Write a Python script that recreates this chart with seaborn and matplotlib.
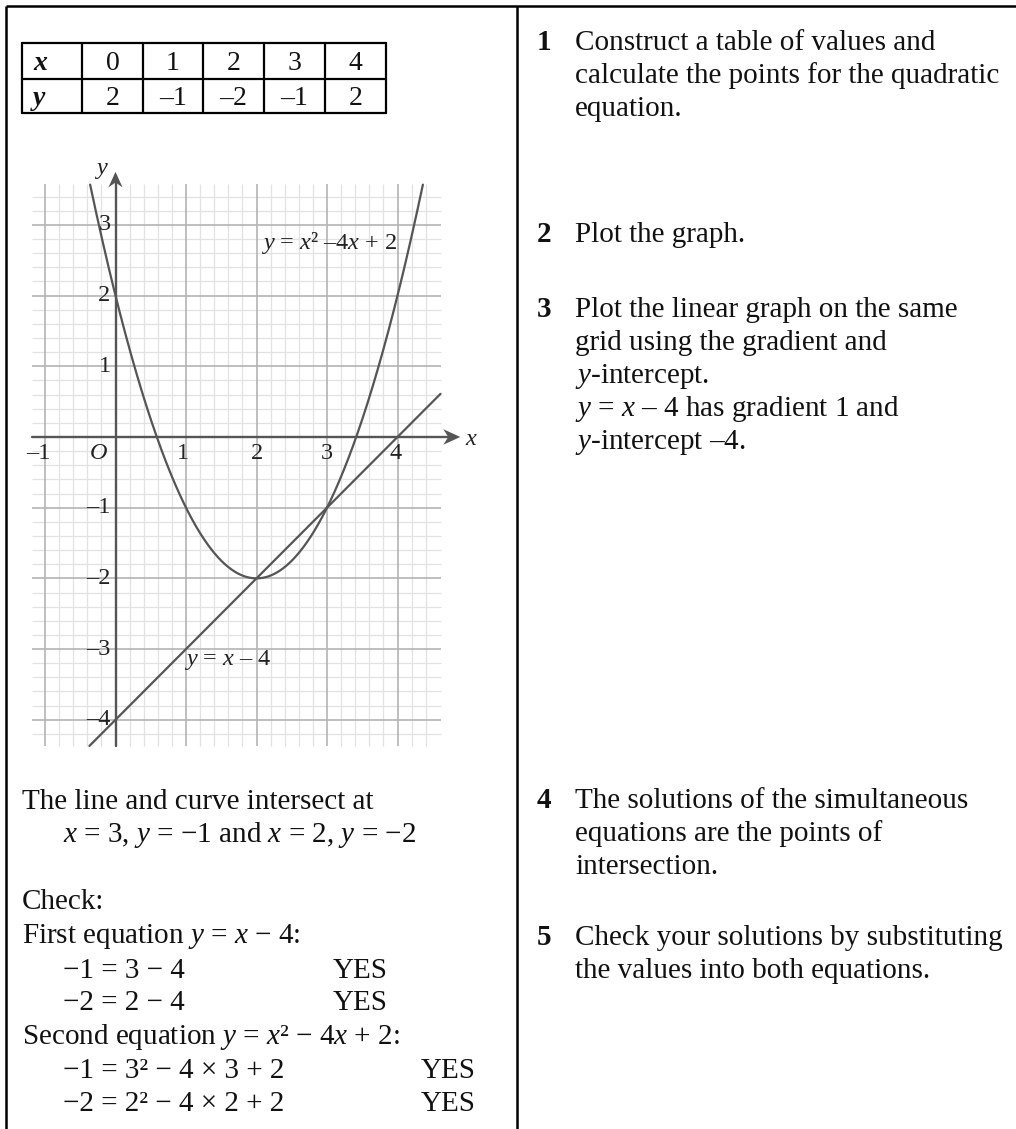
import numpy as np
import matplotlib
matplotlib.use("Agg")
import matplotlib.pyplot as plt
import seaborn as sns

# Table of values for the quadratic
x_values = [0, 1, 2, 3, 4]
y_values = [2, -1, -2, -1, 2]

# y = x^2 - 4x + 2 and y = x - 4
quad_coeffs = [1, -4, 2]
line_coeffs = [1, -4]

x_tick_values = [-1, 1, 2, 3, 4]
y_tick_values = [3, 2, 1, -1, -2, -3, -4]

sns.set_theme(style="white")
plt.rcParams["font.family"] = ["Liberation Serif", "DejaVu Serif"]
plt.rcParams["mathtext.fontset"] = "custom"
plt.rcParams["mathtext.rm"] = "Liberation Serif"
plt.rcParams["mathtext.it"] = "Liberation Serif:italic"
plt.rcParams["mathtext.bf"] = "Liberation Serif:bold"

W, H = 1016, 1129
fig = plt.figure(figsize=(W / 100, H / 100), dpi=100)
fig.patch.set_facecolor("white")

# Page layer in pixel coordinates (origin top-left)
page = fig.add_axes([0, 0, 1, 1])
page.set_xlim(0, W)
page.set_ylim(H, 0)
page.axis("off")

BODY = 21
ink = "#111111"
EN = "\u2013"
MINUS = "\u2212"
SQ = "\u00b2"

# Frame: top rule, left rule, column divider
page.plot([6, W], [6, 6], color="black", lw=1.8, solid_capstyle="butt")
page.plot([6, 6], [6, H], color="black", lw=1.8, solid_capstyle="butt")
page.plot([517, 517], [6, H], color="black", lw=1.8, solid_capstyle="butt")

# ---- table of values ----
col_edges = [22, 82, 143, 203, 264, 325, 386]
row_edges = [43, 79, 113]
for cx in col_edges:
    page.plot([cx, cx], [row_edges[0], row_edges[-1]], color="black", lw=1.6)
for ry in row_edges:
    page.plot([col_edges[0], col_edges[-1]], [ry, ry], color="black", lw=1.6)

def table_str(v):
    return str(v).replace("-", EN)

page.text(33, 70, "x", fontsize=20, fontweight="bold", fontstyle="italic",
          ha="left", va="baseline", color=ink)
page.text(33, 105, "y", fontsize=20, fontweight="bold", fontstyle="italic",
          ha="left", va="baseline", color=ink)
for i, (xv, yv) in enumerate(zip(x_values, y_values)):
    cxm = (col_edges[i + 1] + col_edges[i + 2]) / 2
    page.text(cxm, 70, table_str(xv), fontsize=20, ha="center", va="baseline", color=ink)
    page.text(cxm, 105, table_str(yv), fontsize=20, ha="center", va="baseline", color=ink)

# ---- graph ----
ax = fig.add_axes([20 / W, 1 - 760 / H, 460 / W, 610 / H])
ax.set_xlim(-1.3546, 5.170)
ax.set_ylim(-4.569, 4.059)
ax.axis("off")
ax.patch.set_alpha(0)

gx0, gx1 = -1.18, 4.61
gy0, gy1 = -4.37, 3.58
minor_c, major_c = "#e2e2e2", "#b4b4b4"

xs_minor = np.round(np.arange(-1.0, 4.41, 0.2), 2)
ys_minor = np.round(np.arange(-4.2, 3.41, 0.2), 2)
for v in xs_minor:
    if abs(v - round(v)) > 1e-6:
        ax.vlines(v, gy0, gy1, color=minor_c, lw=0.9, zorder=1)
for v in ys_minor:
    if abs(v - round(v)) > 1e-6:
        ax.hlines(v, gx0, gx1, color=minor_c, lw=0.9, zorder=1)
for v in range(-1, 5):
    ax.vlines(v, gy0, gy1, color=major_c, lw=1.2, zorder=2)
for v in range(-4, 4):
    ax.hlines(v, gx0, gx1, color=major_c, lw=1.2, zorder=2)

axis_c = "#555555"
# axes with notched arrowheads
ax.plot([gx0, 4.80], [0, 0], color=axis_c, lw=1.7, zorder=4)
ax.plot([0, 0], [gy0, 3.66], color=axis_c, lw=1.7, zorder=4)
tipx, tipy = 4.89, 3.75
ax.fill([tipx, tipx - 0.24, tipx - 0.17, tipx - 0.24],
        [0, 0.11, 0, -0.11], color=axis_c, lw=0, zorder=5)
ax.fill([0, 0.1, 0, -0.1],
        [tipy, tipy - 0.22, tipy - 0.15, tipy - 0.22], color=axis_c, lw=0, zorder=5)

# curve and line
xq = np.linspace(-0.40, 4.40, 600)
yq = np.polyval(quad_coeffs, xq)
keep = yq <= gy1
sns.lineplot(x=xq[keep], y=yq[keep], ax=ax, color=axis_c, lw=1.6,
             estimator=None, sort=False, zorder=6)
xl = np.array([gy0 - line_coeffs[1], gx1])
yl = np.polyval(line_coeffs, xl)
sns.lineplot(x=xl, y=yl, ax=ax, color=axis_c, lw=1.6,
             estimator=None, sort=False, zorder=6)

TICK = 17.5
tick_c = "#222222"
for v in x_tick_values:
    off = -0.09 if v < 0 else (-0.05 if v == 1 else (-0.03 if v == 4 else 0))
    ax.text(v + off, -0.23, table_str(v), fontsize=TICK, ha="center", va="center",
            color=tick_c, zorder=7)
ax.text(-0.24, -0.23, "O", fontsize=TICK, fontstyle="italic", ha="center",
        va="center", color=tick_c, zorder=7)
for v in y_tick_values:
    ax.text(-0.07, v, table_str(v), fontsize=TICK, ha="right", va="center",
            color=tick_c, zorder=7)
ax.text(-0.2, 3.80, "y", fontsize=TICK, fontstyle="italic", ha="center",
        va="center", color=tick_c, zorder=7)
ax.text(5.04, -0.03, "x", fontsize=TICK, fontstyle="italic", ha="center",
        va="center", color=tick_c, zorder=7)

ax.text(2.07, 2.74, "$y$ = $x$" + SQ + " " + EN + "4$x$ + 2", fontsize=TICK,
        ha="left", va="center", color=tick_c, zorder=7)
ax.text(0.97, -3.15, "$y$ = $x$ " + EN + " 4", fontsize=TICK, ha="left",
        va="center", color=tick_c, zorder=7)

# ---- left column working ----
def body(x, y, s, **kw):
    page.text(x, y, s, fontsize=BODY, ha="left", va="baseline", color=ink, **kw)

body(22, 809, "The line and curve intersect at")
body(63, 842, f"$x$ = 3, $y$ = {MINUS}1 and $x$ = 2, $y$ = {MINUS}2")
body(22, 909, "Check:")
body(22, 943, f"First equation $y$ = $x$ {MINUS} 4:")
body(63, 978, f"{MINUS}1 = 3 {MINUS} 4")
body(333, 978, "YES")
body(63, 1010, f"{MINUS}2 = 2 {MINUS} 4")
body(333, 1010, "YES")
body(22, 1044, f"Second equation $y$ = $x${SQ} {MINUS} 4$x$ + 2:")
body(63, 1078, f"{MINUS}1 = 3{SQ} {MINUS} 4 \u00d7 3 + 2")
body(421, 1078, "YES")
body(63, 1111, f"{MINUS}2 = 2{SQ} {MINUS} 4 \u00d7 2 + 2")
body(421, 1111, "YES")

# ---- right column steps ----
NUM_X, TXT_X = 537, 575
steps = [
    ("1", 50, ["Construct a table of values and",
               "calculate the points for the quadratic",
               "equation."]),
    ("2", 242, ["Plot the graph."]),
    ("3", 317, ["Plot the linear graph on the same",
                "grid using the gradient and",
                "$y$-intercept.",
                "$y$ = $x$ " + EN + " 4 has gradient 1 and",
                "$y$-intercept " + EN + "4."]),
    ("4", 808, ["The solutions of the simultaneous",
                "equations are the points of",
                "intersection."]),
    ("5", 945, ["Check your solutions by substituting",
                "the values into both equations."]),
]
LINE = 33
for num, y0, lines in steps:
    body(NUM_X, y0, num, fontweight="bold")
    for k, s in enumerate(lines):
        body(TXT_X, y0 + k * LINE, s)

fig.savefig("out.png", dpi=100, facecolor="white")
